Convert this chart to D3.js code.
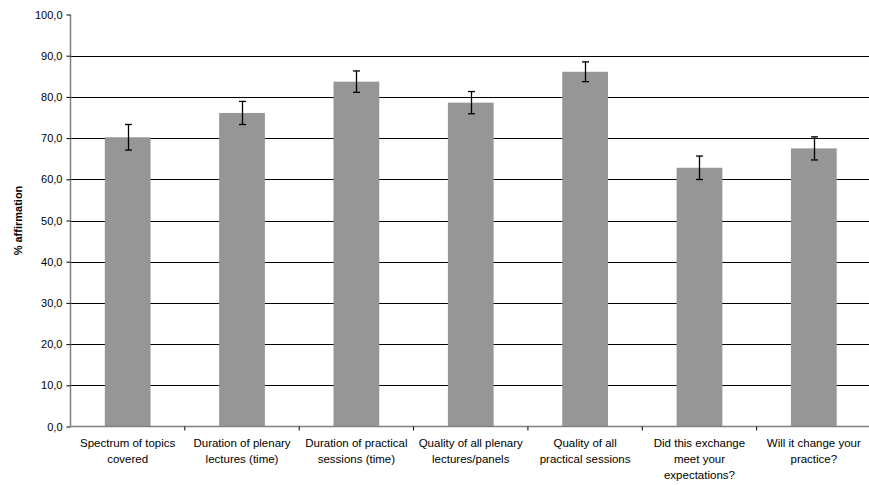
<!DOCTYPE html>
<html>
<head>
<meta charset="utf-8">
<script src="https://cdn.jsdelivr.net/npm/d3@7"></script>
<style>
body { margin: 0; background: #fff; }
text { font-family: "Liberation Sans", Arial, sans-serif; }
</style>
</head>
<body>
<div id="draw_zone"></div>
<script>
var categories = [
	["Spectrum of topics", "covered"],
	["Duration of plenary", "lectures (time)"],
	["Duration of practical", "sessions (time)"],
	["Quality of all plenary", "lectures/panels"],
	["Quality of all", "practical sessions"],
	["Did this exchange", "meet your", "expectations?"],
	["Will it change your", "practice?"]
];
var values = [70.2, 76.1, 83.7, 78.6, 86.1, 62.8, 67.5];
var errors = [3.1, 2.8, 2.6, 2.7, 2.4, 2.85, 2.8];
var yTicks = [0, 10, 20, 30, 40, 50, 60, 70, 80, 90, 100];

var W = 869, H = 485;
var plotL = 70.5, plotR = 871, plotT = 14.5, plotB = 426.5;

var holder = d3.select("#draw_zone").append("svg").attr("width", W).attr("height", H);

var x = d3.scaleBand().domain(d3.range(categories.length)).range([plotL, plotR]).paddingInner(0.6).paddingOuter(0.3);
var y = d3.scaleLinear().domain([0, 100]).range([plotB, plotT]);

// gridlines
holder.append("g").selectAll("line").data(yTicks.filter(function(d) { return d > 0 && d < 100; }))
	.enter().append("line")
	.attr("x1", plotL).attr("x2", plotR)
	.attr("y1", function(d) { return Math.round(y(d)) + 0.5; })
	.attr("y2", function(d) { return Math.round(y(d)) + 0.5; })
	.style("stroke", "#000").style("stroke-width", 1);

// bars
holder.append("g").selectAll("rect").data(values).enter().append("rect")
	.attr("x", function(d, i) { return x(i); })
	.attr("width", x.bandwidth())
	.attr("y", function(d) { return y(d); })
	.attr("height", function(d) { return plotB - y(d); })
	.style("fill", "#969696");

// error bars
var eb = holder.append("g").selectAll("g").data(values).enter().append("g")
	.attr("transform", function(d, i) { return "translate(" + (Math.round(x(i) + x.bandwidth() / 2) + 0.5) + ",0)"; });
eb.append("line").attr("x1", 0).attr("x2", 0)
	.attr("y1", function(d, i) { return y(d + errors[i]); })
	.attr("y2", function(d, i) { return y(d - errors[i]); })
	.style("stroke", "#000").style("stroke-width", 1.3);
eb.append("line").attr("x1", -3.5).attr("x2", 3.5)
	.attr("y1", function(d, i) { return y(d + errors[i]); })
	.attr("y2", function(d, i) { return y(d + errors[i]); })
	.style("stroke", "#000").style("stroke-width", 1.3);
eb.append("line").attr("x1", -3.5).attr("x2", 3.5)
	.attr("y1", function(d, i) { return y(d - errors[i]); })
	.attr("y2", function(d, i) { return y(d - errors[i]); })
	.style("stroke", "#000").style("stroke-width", 1.3);

// y axis
var yAxis = d3.axisLeft(y).tickValues(yTicks).tickSize(4).tickPadding(4)
	.tickFormat(function(d) { return d3.format(".1f")(d).replace(".", ","); });
var gy = holder.append("g").attr("transform", "translate(" + plotL + ",0)").call(yAxis);
gy.select(".domain").style("stroke", "#808080").style("stroke-width", 1.5).attr("d", "M0," + plotT + "V" + plotB);
gy.selectAll(".tick line").style("stroke", "#000");
gy.selectAll(".tick text").style("font-size", "11px").style("fill", "#000").attr("font-family", null);

// x axis
holder.append("line").attr("x1", plotL).attr("x2", plotR).attr("y1", plotB).attr("y2", plotB)
	.style("stroke", "#808080").style("stroke-width", 1.5);
var step = x.step();
holder.append("g").selectAll("line").data(d3.range(1, categories.length)).enter().append("line")
	.attr("x1", function(d) { return plotL + d * step; })
	.attr("x2", function(d) { return plotL + d * step; })
	.attr("y1", plotB).attr("y2", plotB + 4)
	.style("stroke", "#000");

var xl = holder.append("g").selectAll("text").data(categories).enter().append("text")
	.attr("text-anchor", "middle")
	.attr("x", function(d, i) { return x(i) + x.bandwidth() / 2; })
	.attr("y", plotB + 20)
	.style("font-size", "11.5px");
xl.selectAll("tspan").data(function(d) { return d; }).enter().append("tspan")
	.attr("x", function() { return d3.select(this.parentNode).attr("x"); })
	.attr("dy", function(d, i) { return i === 0 ? 0 : 16; })
	.text(function(d) { return d; });

// y label
holder.append("text")
	.attr("transform", "translate(22," + (y(50)) + ") rotate(-90)")
	.attr("text-anchor", "middle")
	.style("font-size", "11px").style("font-weight", "bold")
	.text("% affirmation");
</script>
</body>
</html>
